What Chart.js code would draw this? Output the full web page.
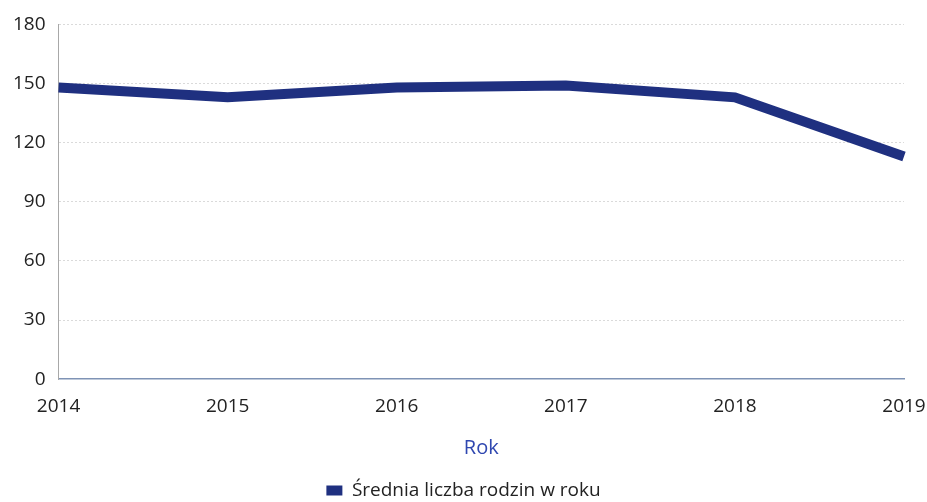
<!DOCTYPE html>
<html>
<head>
<meta charset="utf-8">
<script src="https://cdn.jsdelivr.net/npm/chart.js@4/dist/chart.umd.min.js"></script>
<style>
  html, body { margin: 0; padding: 0; background: #fff; }
  #wrap { width: 927px; height: 502px; }
</style>
</head>
<body>
<div id="wrap"><canvas id="myChart" width="927" height="502"></canvas></div>
<script>
// dane z wykresu
var years = ['2014', '2015', '2016', '2017', '2018', '2019'];
var families = [148, 143, 148, 149, 143, 113];
var yTicks = [0, 30, 60, 90, 120, 150, 180];

var navy = '#1f3080';
var fontName = "'Open Sans', 'Noto Sans', sans-serif";

var ctx = document.getElementById('myChart').getContext('2d');

var chart = new Chart(ctx, {
    type: 'line',
    data: {
        labels: years,
        datasets: [{
            label: 'Średnia liczba rodzin w roku',
            data: families,
            borderColor: navy,
            backgroundColor: navy,
            borderWidth: 10,
            pointRadius: 0,
            tension: 0,
            borderJoinStyle: 'miter'
        }]
    },
    options: {
        responsive: false,
        animation: false,
        layout: { padding: { left: 0, right: 0, top: 18, bottom: -8 } },
        scales: {
            x: {
                offset: false,
                // ostatnia etykieta może wystawać do krawędzi
                afterFit: function (scale) {
                    scale.paddingRight = 23;
                },
                grid: { display: false, drawTicks: false },
                border: { display: true, color: '#7f93b5', width: 1.5 },
                ticks: {
                    color: '#222',
                    padding: 16,
                    maxRotation: 0,
                    font: { family: fontName, size: 19 }
                },
                title: {
                    display: true,
                    text: 'Rok',
                    color: '#2f47b0',
                    padding: { top: 2, bottom: 17 },
                    font: { family: fontName, size: 20 }
                }
            },
            y: {
                min: 0,
                max: 180,
                afterBuildTicks: function (scale) {
                    scale.ticks = yTicks.map(function (v) { return { value: v }; });
                },
                grid: {
                    drawTicks: false,
                    color: function (c) { return c.tick && c.tick.value === 0 ? 'rgba(0,0,0,0)' : '#dadada'; },
                    lineWidth: 1
                },
                border: { display: true, color: '#a8a8a8', dash: [2, 2] },
                ticks: {
                    color: '#222',
                    padding: 13,
                    font: { family: fontName, size: 19 }
                }
            }
        },
        plugins: {
            legend: {
                position: 'bottom',
                labels: {
                    color: '#222',
                    boxWidth: 16,
                    boxHeight: 10,
                    padding: 4,
                    font: { family: fontName, size: 19 },
                    generateLabels: function (chart) {
                        var items = Chart.defaults.plugins.legend.labels.generateLabels(chart);
                        items.forEach(function (it) {
                            it.lineWidth = 0;
                            it.fillStyle = navy;
                        });
                        return items;
                    }
                }
            },
            tooltip: { enabled: false }
        }
    }
});

// linie siatki przerywane
chart.options.scales.y.grid.borderDash = [4, 4];
chart.update();
</script>
</body>
</html>
